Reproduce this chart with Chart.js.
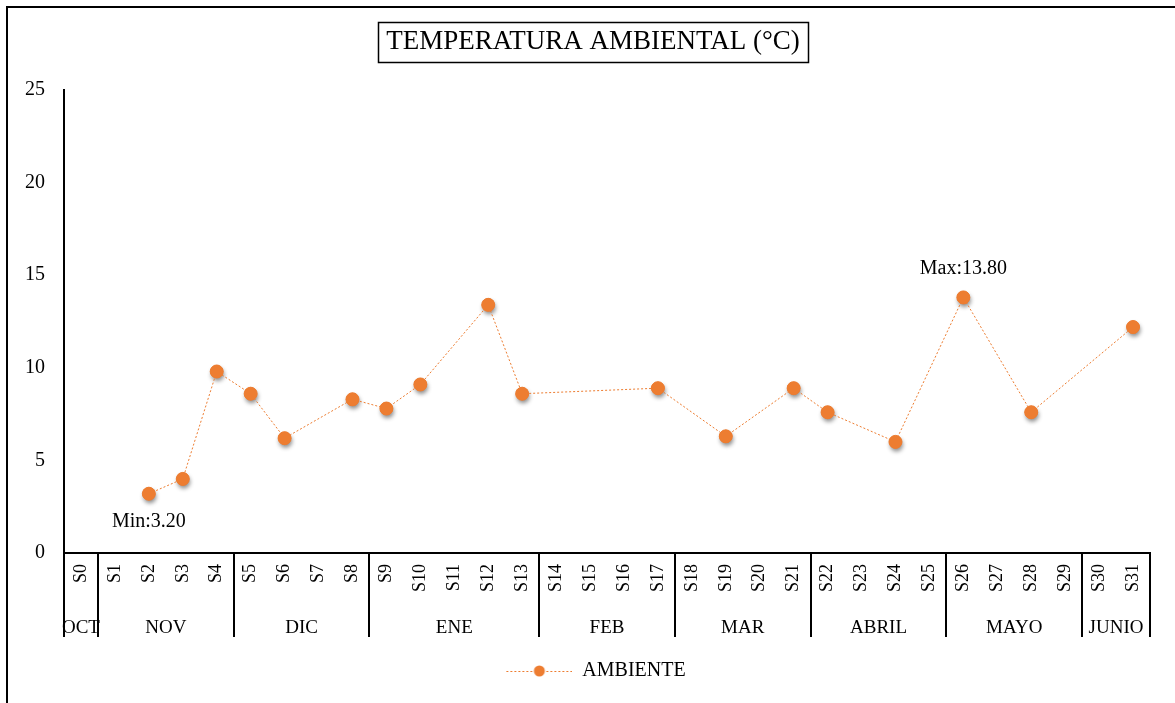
<!DOCTYPE html>
<html>
<head>
<meta charset="utf-8">
<script src="https://cdn.jsdelivr.net/npm/chart.js@4.4.1/dist/chart.umd.min.js"></script>
<style>
  html, body { margin: 0; padding: 0; background: #fff; }
  #wrap { position: relative; width: 1175px; height: 703px; }
</style>
</head>
<body>
<div id="wrap"><canvas id="chart" width="1175" height="703"></canvas></div>
<script>
// Weekly ambient temperature readings (°C); null = week without a reading
const weeks = ['S0','S1','S2','S3','S4','S5','S6','S7','S8','S9','S10','S11','S12','S13','S14','S15',
               'S16','S17','S18','S19','S20','S21','S22','S23','S24','S25','S26','S27','S28','S29','S30','S31'];
const ambiente = [null, null, 3.2, 4.0, 9.8, 8.6, 6.2, null, 8.3, 7.8, 9.1, null, 13.4, 8.6, null, null,
                  null, 8.9, null, 6.3, null, 8.9, 7.6, null, 6.0, null, 13.8, null, 7.6, null, null, 12.2];
const months = ['OCT', 'NOV', 'DIC', 'ENE', 'FEB', 'MAR', 'ABRIL', 'MAYO', 'JUNIO'];
const weeksPerMonth = [1, 4, 4, 5, 4, 4, 4, 4, 2];
const yTicks = [0, 5, 10, 15, 20, 25];
const chartTitle = 'TEMPERATURA AMBIENTAL (°C)';

const SERIF = "'Liberation Serif', 'Times New Roman', serif";
const ORANGE = '#ED7D31';
const MONTH_ROW = 84;

// Legend icon: dotted line with a marker in the middle (left part left blank as spacing)
const legendIcon = document.createElement('canvas');
legendIcon.width = 100; legendIcon.height = 14;
(function () {
  const g = legendIcon.getContext('2d');
  g.strokeStyle = ORANGE; g.lineWidth = 1; g.setLineDash([2, 2]);
  g.beginPath(); g.moveTo(34, 7.5); g.lineTo(100, 7.5); g.stroke();
  g.setLineDash([]); g.fillStyle = ORANGE;
  g.beginPath(); g.arc(67, 7, 5.5, 0, Math.PI * 2); g.fill();
})();

// Outer frame (top and left edges)
const framePlugin = {
  id: 'frame',
  beforeDraw(chart) {
    const ctx = chart.ctx;
    ctx.save();
    ctx.fillStyle = '#fff';
    ctx.fillRect(0, 0, chart.width, chart.height);
    ctx.strokeStyle = '#000'; ctx.lineWidth = 2;
    ctx.beginPath();
    ctx.moveTo(7, chart.height); ctx.lineTo(7, 7); ctx.lineTo(chart.width, 7);
    ctx.stroke();
    ctx.restore();
  }
};

// Boxed title above the plot
const boxedTitlePlugin = {
  id: 'boxedTitle',
  afterDraw(chart) {
    const ctx = chart.ctx;
    const cx = 593, cy = 42;
    ctx.save();
    ctx.font = '27px ' + SERIF;
    ctx.fillStyle = '#000';
    ctx.textAlign = 'center'; ctx.textBaseline = 'middle';
    ctx.fillText(chartTitle, cx, cy);
    const w = ctx.measureText(chartTitle).width;
    ctx.strokeStyle = '#000'; ctx.lineWidth = 1.5;
    ctx.strokeRect(Math.round(cx - w / 2 - 8) + 0.5, Math.round(cy - 20) + 0.5, Math.round(w + 16), 40);
    ctx.restore();
  }
};

// Soft shadow under each marker
const markerShadowPlugin = {
  id: 'markerShadow',
  beforeDatasetsDraw(chart) {
    const ctx = chart.ctx;
    const meta = chart.getDatasetMeta(0);
    ctx.save();
    ctx.fillStyle = ORANGE;
    ctx.shadowColor = 'rgba(0,0,0,0.45)';
    ctx.shadowBlur = 4; ctx.shadowOffsetX = 1; ctx.shadowOffsetY = 3;
    meta.data.forEach((pt, i) => {
      if (ambiente[i] === null) return;
      ctx.beginPath(); ctx.arc(pt.x, pt.y, 6.5, 0, Math.PI * 2); ctx.fill();
    });
    ctx.restore();
  }
};

// Month row below the week labels, with group separators
const monthRowPlugin = {
  id: 'monthRow',
  afterDraw(chart) {
    const ctx = chart.ctx;
    const xs = chart.scales.x;
    const area = chart.chartArea;
    const top = area.bottom, bottom = area.bottom + MONTH_ROW;
    const bounds = [area.left];
    let idx = 0;
    weeksPerMonth.forEach((n, m) => {
      idx += n;
      if (m < weeksPerMonth.length - 1) {
        bounds.push((xs.getPixelForValue(idx - 1) + xs.getPixelForValue(idx)) / 2);
      } else {
        bounds.push(area.right);
      }
    });
    ctx.save();
    ctx.strokeStyle = '#000'; ctx.lineWidth = 2;
    bounds.forEach(b => {
      const x = Math.round(b);
      ctx.beginPath(); ctx.moveTo(x, top); ctx.lineTo(x, bottom); ctx.stroke();
    });
    ctx.fillStyle = '#000';
    ctx.font = '19px ' + SERIF;
    ctx.textAlign = 'center'; ctx.textBaseline = 'middle';
    months.forEach((mName, m) => {
      ctx.fillText(mName, (bounds[m] + bounds[m + 1]) / 2, top + 75);
    });
    ctx.restore();
  }
};

// Min / max annotations, placed from the data values
const extremesPlugin = {
  id: 'extremes',
  afterDatasetsDraw(chart) {
    const ctx = chart.ctx;
    const xs = chart.scales.x, ys = chart.scales.y;
    let iMin = -1, iMax = -1;
    ambiente.forEach((v, i) => {
      if (v === null) return;
      if (iMin < 0 || v < ambiente[iMin]) iMin = i;
      if (iMax < 0 || v > ambiente[iMax]) iMax = i;
    });
    ctx.save();
    ctx.fillStyle = '#000';
    ctx.font = '20px ' + SERIF;
    ctx.textAlign = 'center'; ctx.textBaseline = 'middle';
    ctx.fillText('Min:' + ambiente[iMin].toFixed(2), xs.getPixelForValue(iMin), ys.getPixelForValue(ambiente[iMin]) + 28);
    ctx.fillText('Max:' + ambiente[iMax].toFixed(2), xs.getPixelForValue(iMax), ys.getPixelForValue(ambiente[iMax]) - 29);
    ctx.restore();
  }
};

new Chart(document.getElementById('chart'), {
  type: 'line',
  data: {
    labels: weeks,
    datasets: [{
      label: 'AMBIENTE',
      data: ambiente,
      spanGaps: true,
      borderColor: ORANGE,
      borderWidth: 1,
      borderDash: [2, 2],
      backgroundColor: ORANGE,
      pointBackgroundColor: ORANGE,
      pointBorderColor: ORANGE,
      pointBorderWidth: 1,
      pointRadius: 6.5,
      pointHoverRadius: 6.5,
      tension: 0
    }]
  },
  options: {
    responsive: false,
    animation: false,
    events: [],
    layout: { padding: { left: 8, right: 25, top: 90, bottom: 12 } },
    plugins: {
      title: { display: false },
      legend: {
        position: 'bottom',
        labels: {
          usePointStyle: true,
          pointStyle: legendIcon,
          pointStyleWidth: 100,
          color: '#000',
          font: { family: SERIF, size: 20 },
          padding: 24
        }
      },
      tooltip: { enabled: false }
    },
    scales: {
      x: {
        offset: true,
        grid: { display: false, drawTicks: false },
        border: { display: true, color: '#000', width: 2 },
        ticks: {
          autoSkip: false,
          minRotation: 90,
          maxRotation: 90,
          padding: 11,
          color: '#000',
          font: { family: SERIF, size: 18 }
        },
        afterFit(scale) { scale.height = MONTH_ROW; }
      },
      y: {
        min: yTicks[0],
        max: yTicks[yTicks.length - 1],
        grid: { display: false, drawTicks: false },
        border: { display: true, color: '#000', width: 2 },
        afterBuildTicks(scale) { scale.ticks = yTicks.map(v => ({ value: v })); },
        ticks: {
          padding: 19,
          color: '#000',
          font: { family: SERIF, size: 20 }
        },
        afterFit(scale) { scale.width = 56; }
      }
    }
  },
  plugins: [framePlugin, markerShadowPlugin, extremesPlugin, monthRowPlugin, boxedTitlePlugin]
});
</script>
</body>
</html>
